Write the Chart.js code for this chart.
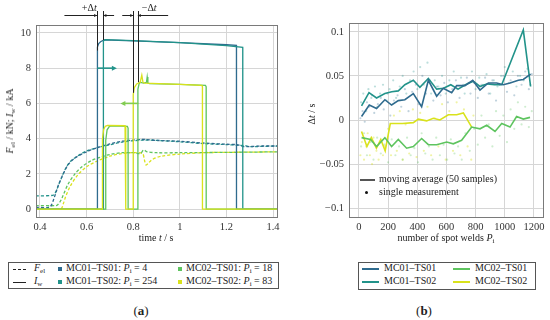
<!DOCTYPE html>
<html><head><meta charset="utf-8">
<script src="https://cdn.jsdelivr.net/npm/chart.js@4/dist/chart.umd.min.js"></script>
<style>
body{margin:0;background:#fff;width:550px;height:320px;overflow:hidden;position:relative;font-family:'Liberation Serif',serif;color:#222}
.t{position:absolute;font-size:10px;line-height:10px;white-space:nowrap}
.t sub{font-size:7px;line-height:7px;vertical-align:-2px}
.box{position:absolute;border:1px solid #555;box-sizing:border-box}
.ln{position:absolute;height:1.4px}
.sq{position:absolute;width:4px;height:4px}
#cA{position:absolute;left:0;top:0}
#cB{position:absolute;left:285px;top:0}
</style></head>
<body>
<canvas id="cA" width="285" height="245" style="width:285px;height:245px"></canvas>
<canvas id="cB" width="265" height="245" style="width:265px;height:245px"></canvas>
<div id="txt"></div>
<script>
// ---------- series names / colours ----------
const seriesNames = ['MC01–TS01','MC01–TS02','MC02–TS01','MC02–TS02'];
const sampleIdx = [4, 254, 18, 83];
const colors = ['#2f6b8e','#22938a','#5ec45f','#d9e21c'];
const dotColors = ['rgba(47,107,142,0.3)','rgba(34,147,138,0.3)','rgba(94,196,95,0.3)','rgba(217,226,28,0.4)'];

// ---------- panel (a): welding current I_w (kA) ----------
const iwT_MC01TS01 = [0.383,0.645,0.6452,0.648,0.652,0.66,0.675,0.8,1.0,1.2,1.243,1.2432,1.417];
const iwV_MC01TS01 = [0,0,8.9,9.2,9.4,9.5,9.6,9.55,9.45,9.33,9.3,0,0];
const iwT_MC01TS02 = [0.383,0.672,0.6722,0.68,0.8,1.0,1.2,1.27,1.2702,1.417];
const iwV_MC01TS02 = [0,0,9.55,9.62,9.56,9.45,9.28,9.18,0,0];
const iwT_MC02TS01 = [0.383,0.682,0.6822,0.688,0.698,0.71,0.775,0.778,0.7782,0.82,0.8202,0.825,0.83,0.845,0.857,0.86,0.863,0.87,1.0,1.11,1.113,1.1132,1.417];
const iwV_MC02TS01 = [0,0,3.9,4.5,4.7,4.72,4.7,4.6,0,0,6.8,7.1,7.2,7.15,7.2,7.5,7.15,7.12,7.08,7.02,6.95,0,0];
const iwT_MC02TS02 = [0.383,0.668,0.6682,0.673,0.68,0.69,0.765,0.768,0.7682,0.80,0.8002,0.805,0.815,0.83,0.837,0.842,0.85,1.0,1.095,1.097,1.0972,1.417];
const iwV_MC02TS02 = [0,0,4.0,4.5,4.7,4.75,4.73,4.65,0,0,6.5,6.9,7.1,7.2,7.6,7.2,7.15,7.08,7.02,6.95,0,0];

// ---------- panel (a): electrode force F_el (kN) ----------
const fT_MC01TS01 = [0.383,0.44,0.45,0.46,0.47,0.48,0.50,0.52,0.55,0.60,0.65,0.70,0.75,0.80,0.85,0.90,1.0,1.1,1.2,1.25,1.27,1.3,1.35,1.417];
const fV_MC01TS01 = [0.1,0.1,0.25,0.6,1.0,1.4,2.0,2.5,2.9,3.25,3.5,3.7,3.85,3.92,3.95,3.9,3.85,3.75,3.68,3.65,3.55,3.55,3.58,3.58];
const fT_MC01TS02 = [0.383,0.455,0.465,0.475,0.49,0.51,0.53,0.56,0.60,0.65,0.70,0.75,0.80,0.85,0.90,1.0,1.1,1.2,1.25,1.28,1.3,1.417];
const fV_MC01TS02 = [0.75,0.78,0.9,1.2,1.7,2.3,2.7,3.0,3.3,3.5,3.65,3.8,3.88,3.92,3.9,3.82,3.72,3.66,3.62,3.6,3.55,3.58];
const fT_MC02TS01 = [0.383,0.47,0.48,0.49,0.50,0.52,0.55,0.58,0.62,0.66,0.70,0.75,0.80,0.83,0.845,0.86,0.9,1.0,1.2,1.417];
const fV_MC02TS01 = [0.2,0.2,0.3,0.5,0.8,1.4,2.0,2.4,2.75,2.95,3.1,3.2,3.2,3.15,3.35,3.25,3.2,3.2,3.22,3.25];
const fT_MC02TS02 = [0.383,0.49,0.50,0.51,0.53,0.56,0.60,0.65,0.70,0.75,0.80,0.84,0.848,0.855,0.865,0.88,0.92,1.0,1.1,1.2,1.417];
const fV_MC02TS02 = [0.02,0.02,0.3,0.7,1.3,1.9,2.4,2.75,3.0,3.15,3.2,3.15,2.8,2.5,2.6,2.8,3.0,3.12,3.2,3.22,3.25];

// ---------- panel (a) axes / annotations ----------
const xTicksA = [0.4,0.6,0.8,1,1.2,1.4];
const yTicksA = [0,2,4,6,8,10];
const markT = [0.645,0.672,0.80,0.82];       // start of current pulses
const markV = [9.0,9.6,6.6,7.2];
const plusDim = [0.505,0.645,0.672,0.718];    // +Δt dimension line
const minusDim = [0.753,0.80,0.82,0.95];      // −Δt dimension line
const arrowTeal = [0.645,0.73,8];             // from, to, level
const arrowGreen = [0.822,0.745,6];

// ---------- panel (b): moving averages ----------
const maP_MC01TS01 = [18,71,121,178,224,270,315,373,430,476,533,578,636,670,727,780,830,887,944,990,1036,1093,1127,1177];
const maV_MC01TS01 = [0.004,0.017,0.013,0.023,0.017,0.022,0.023,0.030,0.015,0.045,0.027,0.036,0.031,0.039,0.039,0.045,0.034,0.042,0.042,0.040,0.042,0.045,0.046,0.052];
const maP_MC01TS02 = [18,69,121,178,225,270,315,373,418,476,533,580,630,680,730,784,830,880,930,979,1127,1177];
const maV_MC01TS02 = [0.016,0.031,0.025,0.030,0.032,0.033,0.040,0.045,0.037,0.047,0.035,0.036,0.040,0.035,0.040,0.044,0.038,0.041,0.040,0.040,0.102,0.038];
const maP_MC02TS01 = [18,80,121,178,224,270,327,373,430,476,533,602,647,704,773,830,876,933,979,1036,1081,1127,1173];
const maV_MC02TS01 = [-0.020,-0.022,-0.030,-0.020,-0.030,-0.022,-0.032,-0.030,-0.021,-0.028,-0.028,-0.025,-0.027,-0.023,-0.008,-0.010,-0.006,-0.013,-0.004,-0.008,0.004,0.001,0.003];
const maP_MC02TS02 = [18,55,85,120,150,180,215,300,373,407,464,510,555,613,670,716,773];
const maV_MC02TS02 = [-0.013,-0.030,-0.020,-0.032,-0.022,-0.035,-0.004,-0.004,-0.003,0.001,-0.001,0.002,0.000,0.006,0.006,0.008,-0.008];

// ---------- panel (b): single measurements (sampled by eye) ----------
const smP_MC01TS01 = [10,25,40,55,70,90,105,130,150,170,195,215,240,265,290,315,340,365,390,410,435,460,485,510,535,560,585,610,640,665,690,715,740,765,790,815,840,865,890,915,940,965,990,1015,1040,1065,1090,1115,1140,1165,1185];
const smV_MC01TS01 = [0.002,0.010,-0.002,0.020,0.015,0.028,0.008,0.018,0.025,0.012,0.030,0.005,0.022,0.028,0.015,0.035,0.010,0.032,0.040,0.018,0.050,0.030,0.045,0.022,0.038,0.028,0.042,0.020,0.035,0.045,0.025,0.040,0.048,0.030,0.042,0.025,0.040,0.048,0.030,0.045,0.022,0.040,0.050,0.032,0.045,0.028,0.050,0.040,0.055,0.035,0.052];
const smP_MC01TS02 = [15,30,50,65,85,110,125,145,165,190,210,235,255,280,300,325,350,375,400,420,445,470,495,520,545,570,595,620,650,675,700,725,750,775,800,825,850,875,900,925,950,975,1000,1030,1055,1080,1105,1130,1155,1175];
const smV_MC01TS02 = [0.020,0.030,0.010,0.035,0.025,0.038,0.015,0.030,0.040,0.022,0.035,0.045,0.025,0.038,0.050,0.030,0.045,0.055,0.035,0.060,0.040,0.065,0.030,0.045,0.038,0.050,0.030,0.045,0.055,0.035,0.048,0.030,0.042,0.055,0.035,0.048,0.040,0.052,0.030,0.045,0.038,0.050,0.060,0.042,0.055,0.038,0.050,0.045,0.058,0.040];
const smP_MC02TS01 = [15,35,55,80,100,125,150,175,200,225,250,275,300,330,355,380,405,430,455,480,505,530,555,580,605,630,655,680,705,730,760,790,815,840,865,890,915,940,965,990,1015,1040,1065,1090,1115,1140,1165,1185];
const smV_MC02TS01 = [-0.030,-0.015,-0.040,-0.025,-0.045,-0.020,-0.038,-0.028,-0.048,-0.022,-0.040,-0.030,-0.045,-0.020,-0.040,-0.032,-0.048,-0.015,-0.038,-0.030,-0.045,-0.020,-0.040,-0.028,-0.045,-0.022,-0.038,-0.030,-0.045,-0.015,-0.035,-0.010,-0.028,0.005,-0.020,-0.005,-0.030,0.010,-0.018,0.005,-0.025,0.012,-0.010,0.020,-0.005,0.015,-0.008,0.010];
const smP_MC02TS02 = [10,20,35,50,60,75,90,100,120,135,150,165,180,200,220,240,260,280,300,320,345,370,395,420,445,470,495,520,545,570,595,620,645,670,695,720,745,770,785];
const smV_MC02TS02 = [-0.040,-0.025,-0.045,-0.030,-0.015,-0.040,-0.050,-0.020,-0.035,-0.045,-0.025,-0.040,-0.030,-0.010,-0.040,0.005,-0.035,0.010,-0.045,-0.005,-0.038,0.012,-0.042,0.008,-0.035,0.015,-0.040,0.002,-0.030,0.018,-0.045,0.010,-0.035,0.020,-0.040,0.012,-0.030,-0.045,0.005];

const xTicksB = [0,200,400,600,800,1000,1200];
const yTicksB = [-0.1,-0.05,0,0.05,0.1];
const yTickLabelsB = ['−0.1','−0.05','0','0.05','0.1'];

// ---------- helpers ----------
const pts = (xs, ys) => xs.map((x, i) => ({x, y: ys[i]}));
const FONT = {family: "'Liberation Serif', serif", size: 10.5};
const GRID = '#d6d6d6';
const boxPlugin = {
  id: 'box',
  afterDraw(chart) {
    const {ctx, chartArea: a} = chart;
    ctx.save(); ctx.strokeStyle = '#7a7a7a'; ctx.lineWidth = 1;
    ctx.strokeRect(Math.round(a.left) + 0.5, Math.round(a.top) + 0.5, Math.round(a.right - a.left), Math.round(a.bottom - a.top));
    ctx.restore();
  }
};
function arrowHead(ctx, x, y, dir, len, w) {
  ctx.beginPath(); ctx.moveTo(x, y); ctx.lineTo(x - dir * len, y - w); ctx.lineTo(x - dir * len, y + w); ctx.closePath(); ctx.fill();
}
const annotPlugin = {
  id: 'annot',
  afterDraw(chart) {
    const {ctx, scales: {x, y}, chartArea: a} = chart;
    ctx.save();
    ctx.strokeStyle = '#222'; ctx.fillStyle = '#222'; ctx.lineWidth = 1;
    markT.forEach((t, i) => {
      const px = Math.round(x.getPixelForValue(t)) + 0.5;
      ctx.beginPath(); ctx.moveTo(px, a.top - 14); ctx.lineTo(px, y.getPixelForValue(markV[i])); ctx.stroke();
    });
    const dy = Math.round(a.top - 10) + 0.5;
    [plusDim, minusDim].forEach(d => {
      const p = d.map(v => x.getPixelForValue(v));
      ctx.beginPath(); ctx.moveTo(p[0], dy); ctx.lineTo(p[1], dy); ctx.moveTo(p[2], dy); ctx.lineTo(p[3], dy); ctx.stroke();
      arrowHead(ctx, p[1], dy, 1, 3, 1.5);
      arrowHead(ctx, p[2], dy, -1, 3, 1.5);
    });
    ctx.font = "10px 'Liberation Serif', serif"; ctx.textBaseline = 'middle';
    const lab = (s, cx) => {
      const w1 = ctx.measureText(s).width;
      ctx.font = "italic 10px 'Liberation Serif', serif"; const w2 = ctx.measureText('t').width;
      const x0 = cx - (w1 + w2) / 2;
      ctx.font = "10px 'Liberation Serif', serif"; ctx.fillText(s, x0, a.top - 17);
      ctx.font = "italic 10px 'Liberation Serif', serif"; ctx.fillText('t', x0 + w1, a.top - 17);
      ctx.font = "10px 'Liberation Serif', serif";
    };
    lab('+Δ', (x.getPixelForValue(plusDim[0]) + x.getPixelForValue(plusDim[3])) / 2);
    lab('−Δ', (x.getPixelForValue(minusDim[0]) + x.getPixelForValue(minusDim[3])) / 2 + 4);
    // coloured shift arrows
    [[arrowTeal, colors[1]], [arrowGreen, '#82cc52']].forEach(([ar, c]) => {
      const x0 = x.getPixelForValue(ar[0]), x1 = x.getPixelForValue(ar[1]), yy = y.getPixelForValue(ar[2]);
      ctx.strokeStyle = c; ctx.fillStyle = c; ctx.lineWidth = 1.6;
      const dir = Math.sign(x1 - x0);
      ctx.beginPath(); ctx.moveTo(x0, yy); ctx.lineTo(x1 - dir * 3, yy); ctx.stroke();
      arrowHead(ctx, x1, yy, dir, 5, 2.5);
    });
    ctx.restore();
  }
};

// ---------- chart (a) ----------
const iwSets = [[iwT_MC02TS02, iwV_MC02TS02, 3], [iwT_MC02TS01, iwV_MC02TS01, 2], [iwT_MC01TS02, iwV_MC01TS02, 1], [iwT_MC01TS01, iwV_MC01TS01, 0]];
const fSets = [[fT_MC01TS01, fV_MC01TS01, 0], [fT_MC01TS02, fV_MC01TS02, 1], [fT_MC02TS01, fV_MC02TS01, 2], [fT_MC02TS02, fV_MC02TS02, 3]];
const dsA = [];
iwSets.forEach(([t, v, k]) => dsA.push({data: pts(t, v), borderColor: colors[k], borderWidth: 1.3, pointRadius: 0, tension: 0}));
fSets.forEach(([t, v, k]) => dsA.push({data: pts(t, v), borderColor: colors[k], borderWidth: 1.3, borderDash: [3, 2], pointRadius: 0, tension: 0.3}));

new Chart(document.getElementById('cA'), {
  type: 'line',
  data: {datasets: dsA},
  plugins: [boxPlugin, annotPlugin],
  options: {
    responsive: false, animation: false, devicePixelRatio: 1,
    layout: {padding: {top: 25, right: 8, left: 0, bottom: 0}},
    plugins: {legend: {display: false}, tooltip: {enabled: false}},
    scales: {
      x: {type: 'linear', min: 0.383, max: 1.417,
        afterBuildTicks: s => { s.ticks = xTicksA.map(v => ({value: v})); },
        afterFit: s => { s.height = 28; },
        ticks: {font: FONT, color: '#333', padding: 4, maxRotation: 0, callback: v => String(v)},
        grid: {color: GRID, drawTicks: false}, border: {display: false}},
      y: {type: 'linear', min: -0.45, max: 10.45,
        afterBuildTicks: s => { s.ticks = yTicksA.map(v => ({value: v})); },
        afterFit: s => { s.width = 36; },
        ticks: {font: FONT, color: '#333', padding: 5, callback: v => String(v)},
        grid: {color: GRID, drawTicks: false}, border: {display: false}}
    }
  }
});

// ---------- chart (b) ----------
const maSets = [[maP_MC01TS01, maV_MC01TS01], [maP_MC01TS02, maV_MC01TS02], [maP_MC02TS01, maV_MC02TS01], [maP_MC02TS02, maV_MC02TS02]];
const smSets = [[smP_MC01TS01, smV_MC01TS01], [smP_MC01TS02, smV_MC01TS02], [smP_MC02TS01, smV_MC02TS01], [smP_MC02TS02, smV_MC02TS02]];
const dsB = [];
maSets.forEach(([p, v], k) => dsB.push({type: 'line', data: pts(p, v), borderColor: colors[k], borderWidth: 1.6, pointRadius: 0, tension: 0, showLine: true}));
smSets.forEach(([p, v], k) => dsB.push({type: 'scatter', data: pts(p, v), backgroundColor: dotColors[k], borderWidth: 0, pointRadius: 1.1}));

new Chart(document.getElementById('cB'), {
  type: 'scatter',
  data: {datasets: dsB},
  plugins: [boxPlugin],
  options: {
    responsive: false, animation: false, devicePixelRatio: 1,
    layout: {padding: {top: 23, right: 7, left: 0, bottom: 0}},
    plugins: {legend: {display: false}, tooltip: {enabled: false}},
    scales: {
      x: {type: 'linear', min: -68, max: 1262,
        afterBuildTicks: s => { s.ticks = xTicksB.map(v => ({value: v})); },
        afterFit: s => { s.height = 28; },
        ticks: {font: FONT, color: '#333', padding: 4, maxRotation: 0, callback: v => String(v)},
        grid: {color: GRID, drawTicks: false}, border: {display: false}},
      y: {type: 'linear', min: -0.11, max: 0.11,
        afterBuildTicks: s => { s.ticks = yTicksB.map(v => ({value: v})); },
        afterFit: s => { s.width = 64; },
        ticks: {font: FONT, color: '#333', padding: 5, callback: (v, i) => yTickLabelsB[i]},
        grid: {color: GRID, drawTicks: false}, border: {display: false}}
    }
  }
});

// ---------- HTML text: titles, legends, captions ----------
const T = document.getElementById('txt');
function txt(html, left, cy, extra) {
  const d = document.createElement('div'); d.className = 't'; d.innerHTML = html;
  d.style.left = left + 'px'; d.style.top = (cy - 5) + 'px';
  if (extra) Object.assign(d.style, extra);
  T.appendChild(d); return d;
}
function el(cls, st) { const d = document.createElement('div'); d.className = cls; Object.assign(d.style, st); T.appendChild(d); return d; }
// axis titles
txt('time <i>t</i> / s', 156, 238, {transform: 'translateX(-50%)'});
txt('number of spot welds <i>P</i><sub>i</sub>', 446, 238, {transform: 'translateX(-50%)'});
const yA = txt('<i>F</i><sub>el</sub> / kN; <i>I</i><sub>w</sub> / kA', 11, 121);
yA.style.top = '121px'; yA.style.transform = 'translate(-50%,-50%) rotate(-90deg)';
const yB = txt('Δ<i>t</i> / s', 312, 114);
yB.style.top = '114px'; yB.style.transform = 'translate(-50%,-50%) rotate(-90deg)';
// legend (a)
el('box', {left: '8px', top: '262px', width: '271px', height: '27px'});
el('ln', {left: '13px', top: '268.5px', width: '13px', background: 'repeating-linear-gradient(to right,#222 0 3px,transparent 3px 5px)'});
txt('<i>F</i><sub>el</sub>', 34, 268);
el('ln', {left: '13px', top: '281.5px', width: '13px', background: '#222'});
txt('<i>I</i><sub>w</sub>', 34, 281);
[[0, 58, 269], [1, 58, 282], [2, 178, 269], [3, 178, 282]].forEach(([k, x, cy]) => {
  el('sq', {left: x + 'px', top: (cy - 2) + 'px', background: colors[k]});
  txt(seriesNames[k] + ': <i>P</i><sub>i</sub> = ' + sampleIdx[k], x + 8, cy - 1);
});
txt('(<b>a</b>)', 141, 309, {transform: 'translateX(-50%)', fontSize: '13px', lineHeight: '13px'});
// legend (b)
el('box', {left: '358px', top: '262px', width: '178px', height: '28px'});
[[0, 362, 269], [1, 362, 282], [2, 453, 269], [3, 453, 282]].forEach(([k, x, cy]) => {
  el('ln', {left: x + 'px', top: (cy - 0.7) + 'px', width: '17px', background: colors[k]});
  txt(seriesNames[k], x + 22, cy - 1);
});
txt('(<b>b</b>)', 424, 309, {transform: 'translateX(-50%)', fontSize: '13px', lineHeight: '13px'});
// inner legend (b)
el('ln', {left: '360px', top: '179px', width: '15px', height: '2px', background: '#555'});
txt('moving average (50 samples)', 379, 179);
el('sq', {left: '365px', top: '191px', width: '3px', height: '3px', borderRadius: '2px', background: '#111'});
txt('single measurement', 379, 192);
</script>
</body></html>
